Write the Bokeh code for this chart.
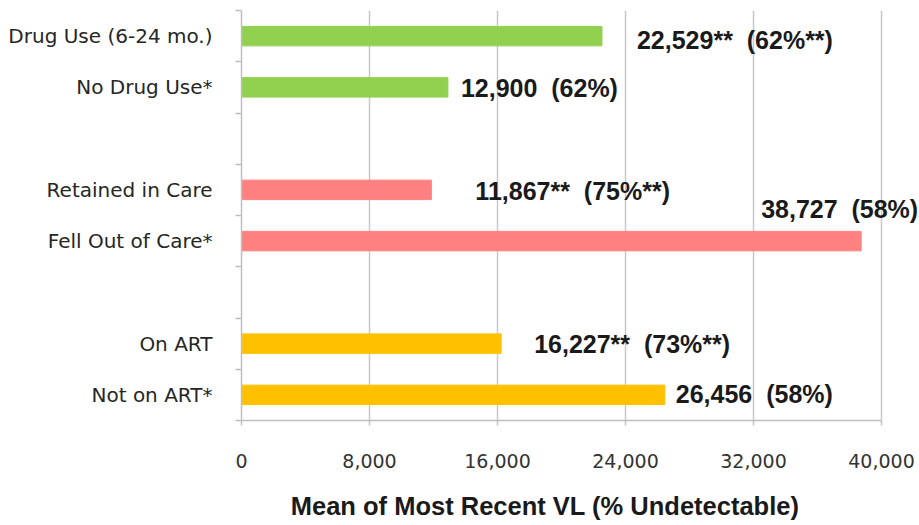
from bokeh.plotting import figure
from bokeh.models import Range1d, FixedTicker, ColumnDataSource, NumeralTickFormatter
from bokeh.core.properties import value
from bokeh.embed import file_html
from bokeh.resources import INLINE

# ---- data ----
groups = [
    ["Drug Use (6-24 mo.)", "No Drug Use*"],
    ["Retained in Care", "Fell Out of Care*"],
    ["On ART", "Not on ART*"],
]
group_colors = ["#92D050", "#FF8080", "#FFC000"]
values = [22529, 12900, 11867, 38727, 16227, 26456]
pct_undetectable = [62, 62, 75, 58, 73, 58]
significant = [True, False, True, False, True, False]
x_ticks = [0, 8000, 16000, 24000, 32000, 40000]
x_title = "Mean of Most Recent VL (% Undetectable)"

# ---- layout / style (not data) ----
label_dx = [35, 13, 44, -100, 33, 11]
label_dy = [4, 1, 1, -32, 0, -1]
W, H = 919, 523
LEFT, AXIS_W = 241, 640          # axis 0..max spans AXIS_W px; frame extends past it so labels aren't clipped
x_max = x_ticks[-1]
frame_w = W - LEFT
x_end = x_max * frame_w / AXIS_W
TITLE_PAD = "\u00a0" * 10        # shifts the centred axis title back under the 0..max span

# row positions: groups separated by one blank row, top to bottom
n_rows = sum(len(g) for g in groups) + len(groups) - 1
cats, ys, cols = [], [], []
row = 0
for gi, g in enumerate(groups):
    for c in g:
        cats.append(c)
        ys.append(n_rows - row - 0.5)
        cols.append(group_colors[gi])
        row += 1
    row += 1

NB = "\u00a0\u00a0"
def fmt(v, p, s):
    star = "**" if s else ""
    return f"{v:,}{star}{NB}({p}%{star})"

texts = [fmt(v, p, s) for v, p, s in zip(values, pct_undetectable, significant)]

src = ColumnDataSource(dict(y=ys, v=values, color=cols, text=texts, dx=label_dx, dy=label_dy))

p = figure(width=W, height=H, x_range=Range1d(0, x_end), y_range=Range1d(0, n_rows),
           output_backend="svg", toolbar_location=None,
           min_border_left=LEFT, min_border_right=0, min_border_top=10, min_border_bottom=103)
p.outline_line_color = None
p.background_fill_color = "white"

p.hbar(y="y", right="v", left=0, height=0.38, color="color", source=src)
p.text(x="v", y="y", text="text", x_offset="dx", y_offset="dy", source=src,
       text_font=value("Liberation Sans"), text_font_style="bold", text_font_size="25px",
       text_baseline="middle", text_align="left", text_color="#1a1a1a")

# x axis
xa = p.xaxis[0]
xa.bounds = (0, x_max)
xa.ticker = FixedTicker(ticks=x_ticks, minor_ticks=[])
xa.formatter = NumeralTickFormatter(format="0,0")
xa.axis_line_color = "#BFBFBF"
xa.axis_line_width = 1.5
xa.major_tick_line_color = "#BFBFBF"
xa.major_tick_line_width = 1.5
xa.major_tick_in = 0
xa.major_tick_out = 5
xa.minor_tick_line_color = None
xa.major_label_text_font = "DejaVu Sans"
xa.major_label_text_font_size = "19px"
xa.major_label_text_color = "#333333"
xa.major_label_standoff = 28
xa.axis_label = x_title + TITLE_PAD
xa.axis_label_text_font = "Liberation Sans"
xa.axis_label_text_font_style = "bold"
xa.axis_label_text_font_size = "25.5px"
xa.axis_label_text_color = "#1a1a1a"
xa.axis_label_standoff = 21

# y axis: labels at row centres, small ticks at row boundaries
ya = p.yaxis[0]
ya.ticker = FixedTicker(ticks=ys, minor_ticks=list(range(n_rows + 1)))
ya.major_label_overrides = {y: c for y, c in zip(ys, cats)}
ya.major_tick_line_color = None
ya.minor_tick_line_color = "#BFBFBF"
ya.minor_tick_line_width = 1.5
ya.minor_tick_in = 0
ya.minor_tick_out = 6
ya.axis_line_color = "#BFBFBF"
ya.axis_line_width = 1.5
ya.major_label_text_font = "DejaVu Sans"
ya.major_label_text_font_size = "20px"
ya.major_label_text_color = "#262626"
ya.major_label_standoff = 23

p.xgrid.ticker = FixedTicker(ticks=x_ticks)
p.xgrid.grid_line_color = "#C8C8C8"
p.xgrid.grid_line_width = 1.5
p.ygrid.grid_line_color = None

open("out.html", "w").write(file_html(p, INLINE))
